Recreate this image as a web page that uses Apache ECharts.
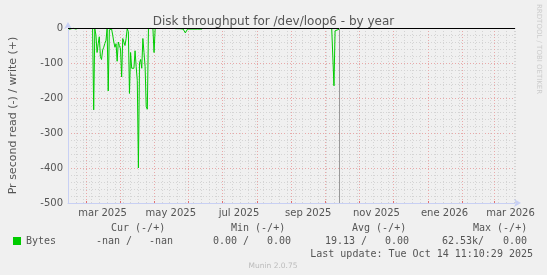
<!DOCTYPE html>
<html><head><meta charset="utf-8">
<script src="https://cdn.jsdelivr.net/npm/echarts@6/dist/echarts.min.js"></script>
<style>html,body{margin:0;padding:0;background:#f0f0f0}#c{width:547px;height:275px}</style>
</head><body><div id="c"></div>
<script>
const titleText = 'Disk throughput for /dev/loop6 - by year';
const yAxisName = 'Pr second read (-) / write (+)';
const startDate = '2025-02-13';
const endDate = '2026-03-20';
const nowDate = '2025-10-14';
const monthTicks = ['2025-03-01','2025-04-01','2025-05-01','2025-06-01','2025-07-01','2025-08-01','2025-09-01','2025-10-01','2025-11-01','2025-12-01','2026-01-01','2026-02-01','2026-03-01'];
const labelDates = ['2025-03-16','2025-05-16','2025-07-16','2025-09-16','2025-11-16','2026-01-16','2026-03-16'];
const tickLabels = ['mar 2025','may 2025','jul 2025','sep 2025','nov 2025','ene 2026','mar 2026'];
const yMin = -500, yMax = 0, yStep = 100;

const readDates = ['2025-02-14','2025-02-16','2025-02-18','2025-02-20','2025-02-22','2025-02-23',
 '2025-03-06','2025-03-07','2025-03-08','2025-03-09','2025-03-10','2025-03-11','2025-03-12','2025-03-13','2025-03-14','2025-03-15','2025-03-16','2025-03-17','2025-03-18','2025-03-19','2025-03-20',
 '2025-03-21','2025-03-22','2025-03-23','2025-03-24','2025-03-25','2025-03-26','2025-03-27','2025-03-28','2025-03-29','2025-03-30','2025-03-31',
 '2025-04-01','2025-04-02','2025-04-03','2025-04-04','2025-04-05','2025-04-06','2025-04-07','2025-04-08','2025-04-09','2025-04-10',
 '2025-04-11','2025-04-12','2025-04-13','2025-04-14','2025-04-15','2025-04-16','2025-04-17','2025-04-18','2025-04-19','2025-04-20',
 '2025-04-21','2025-04-22','2025-04-23','2025-04-24','2025-04-25','2025-04-26','2025-04-28','2025-04-30','2025-05-01','2025-05-02','2025-05-03',
 '2025-05-19','2025-05-20','2025-05-24','2025-05-27','2025-05-29','2025-05-30','2025-05-31','2025-06-04','2025-06-09','2025-06-13','2025-06-14',
 '2025-10-06','2025-10-07','2025-10-09','2025-10-10','2025-10-11','2025-10-14'];
const readValues = [-4,-2,-1,-3,-1,null,
 null,0,-234,-3,-20,-70,-45,-25,-82,-90,-63,-55,-44,-35,-2,
 -180,-5,-2,-3,-20,-40,-55,-45,-95,-40,-50,
 -60,-140,-30,-25,-50,-30,-2,-10,-187,-70,
 -115,-112,-115,-65,-110,-150,-400,-100,-90,-115,
 -30,-70,-110,-225,-232,-2,-1,-2,-70,-2,null,
 null,-2,-2,-3,-14,-10,-3,-3,-3,-3,null,
 null,-2,-165,-8,-3,-3];

const legendName = 'Bytes';
const statHeaders = ['Cur (-/+)','Min (-/+)','Avg (-/+)','Max (-/+)'];
const statReads = ['-nan /','0.00 /','19.13 /','62.53k/'];
const statWrites = ['-nan','0.00','0.00','0.00'];
const lastUpdate = 'Last update: Tue Oct 14 11:10:29 2025';
const footer = 'Munin 2.0.75';
const sideText = 'RRDTOOL / TOBI OETIKER';

const DAY = 86400000;
const t0 = Date.parse(startDate);
const toDay = s => (Date.parse(s) - t0) / DAY;
const maxDay = toDay(endDate);
const labelPos = labelDates.map(toDay);
const FONT = 'DejaVu Sans';
const MONO = 'DejaVu Sans Mono';
const TXT = '#555555';

const seriesData = readDates.map((d, i) => [toDay(d), readValues[i]]);

const chart = echarts.init(document.getElementById('c'));
const headerX = [111, 231, 352, 473];
const readX = [96, 213, 325, 442];
const writeRight = [173, 291, 409, 527];
const graphics = [
  {type:'rect', shape:{x:13, y:237, width:8, height:8}, style:{fill:'#00cc00'}},
  {type:'text', x:26, y:241.5, style:{text:legendName, font:'10px ' + MONO, fill:TXT, verticalAlign:'middle'}},
  {type:'text', x:533, y:254, style:{text:lastUpdate, font:'10px ' + MONO, fill:TXT, align:'right', verticalAlign:'middle'}},
  {type:'text', x:273, y:266, style:{text:footer, font:'7.5px ' + FONT, fill:'#bbbbbb', align:'center', verticalAlign:'middle'}},
  {type:'text', x:539, y:4, rotation:-Math.PI/2, style:{text:sideText, font:'7px ' + FONT, fill:'#cccccc', align:'left', verticalAlign:'middle'}}
];
statHeaders.forEach((h, i) => graphics.push({type:'text', x:headerX[i], y:228, style:{text:h, font:'10px ' + MONO, fill:TXT, verticalAlign:'middle'}}));
statReads.forEach((h, i) => graphics.push({type:'text', x:readX[i], y:241.5, style:{text:h, font:'10px ' + MONO, fill:TXT, verticalAlign:'middle'}}));
statWrites.forEach((h, i) => graphics.push({type:'text', x:writeRight[i], y:241.5, style:{text:h, font:'10px ' + MONO, fill:TXT, align:'right', verticalAlign:'middle'}}));

chart.setOption({
  backgroundColor: '#f0f0f0',
  animation: false,
  title: {text: titleText, left: 'center', top: 11,
    textStyle: {fontFamily: FONT, fontSize: 12, fontWeight: 'normal', color: TXT}},
  grid: {left: 65, right: 32, top: 28, bottom: 72},
  xAxis: [
    {type: 'value', min: 0, max: maxDay, interval: 7,
      axisLine: {show: false}, axisTick: {show: false}, axisLabel: {show: false},
      splitLine: {show: true, lineStyle: {color: '#d4d4d4', type: [1, 2], width: 1}}},
    {type: 'value', min: 0, max: maxDay, position: 'bottom',
      axisLine: {show: true, lineStyle: {color: '#c8d0f4', width: 1}, symbol: ['none', 'arrow'], symbolSize: [6, 7], symbolOffset: [0, 6]},
      axisTick: {show: true, customValues: monthTicks.map(toDay), length: 2, inside: true, lineStyle: {color: '#e07070'}},
      axisLabel: {customValues: labelPos, margin: 5, fontFamily: FONT, fontSize: 10, color: TXT,
        formatter: v => { const i = labelPos.findIndex(p => Math.abs(p - v) < 0.01); return i >= 0 ? tickLabels[i] : ''; }},
      splitLine: {show: true, lineStyle: {color: '#e8a8a8', type: [1, 2], width: 1}}}
  ],
  yAxis: {type: 'value', min: yMin, max: yMax, interval: yStep,
    name: yAxisName, nameLocation: 'middle', nameGap: 49,
    nameTextStyle: {fontFamily: FONT, fontSize: 11, color: TXT},
    axisLine: {show: true, lineStyle: {color: '#c8d0f4', width: 1}, symbol: ['none', 'arrow'], symbolSize: [6, 7], symbolOffset: [0, 6]},
    axisTick: {show: false},
    minorTick: {show: false, splitNumber: 5},
    minorSplitLine: {show: true, lineStyle: {color: '#d4d4d4', type: [1, 2], width: 1}},
    axisLabel: {margin: 5, fontFamily: FONT, fontSize: 10, color: TXT},
    splitLine: {show: true, lineStyle: {color: '#e8a8a8', type: [1, 2], width: 1}}},
  series: [{
    type: 'line', xAxisIndex: 1, data: seriesData, symbol: 'none', connectNulls: false,
    lineStyle: {color: '#00cc00', width: 1},
    markLine: {silent: true, symbol: 'none', label: {show: false}, animation: false,
      data: [
        {yAxis: 0, lineStyle: {color: '#000000', width: 1, type: 'solid'}},
        {xAxis: toDay(nowDate), lineStyle: {color: '#999999', width: 1, type: 'solid'}}
      ]}
  }],
  graphic: graphics
});
</script></body></html>
